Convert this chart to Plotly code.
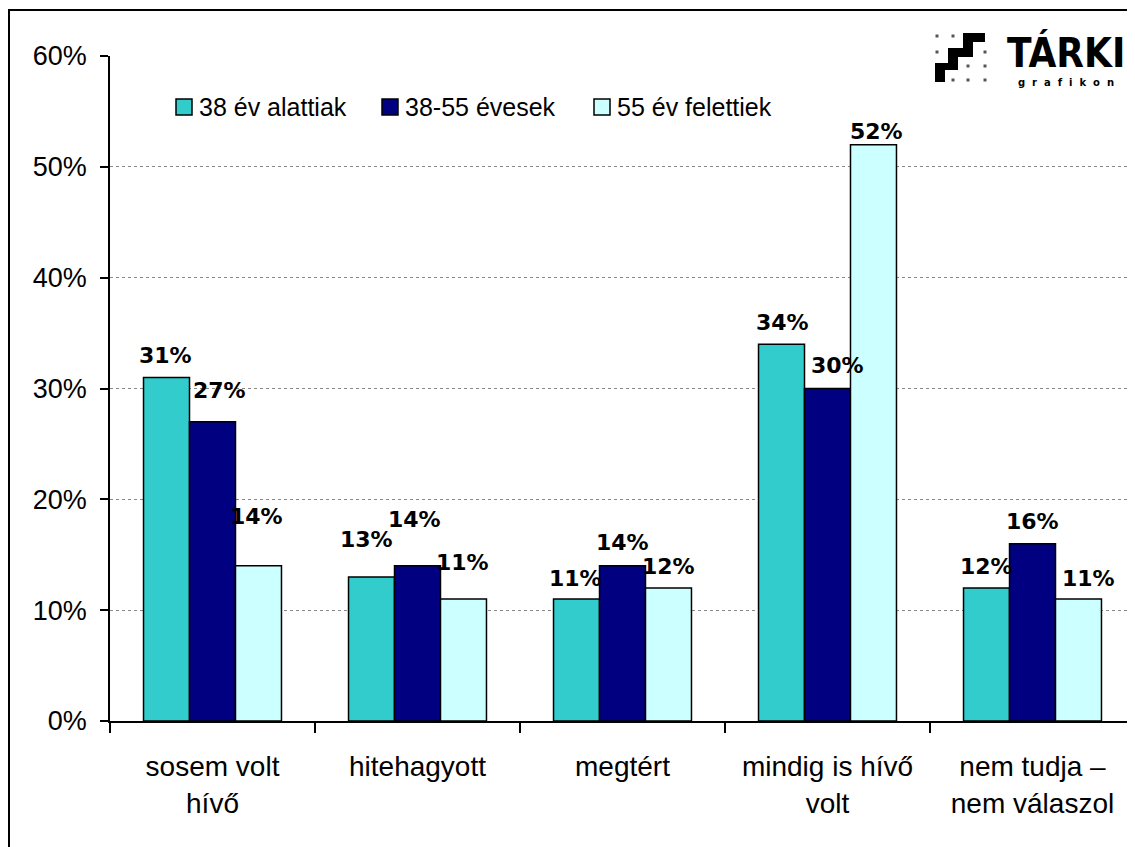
import plotly.graph_objects as go

categories = ["sosem volt<br>hívő", "hitehagyott", "megtért", "mindig is hívő<br>volt", "nem tudja –<br>nem válaszol"]
series_names = ["38 év alattiak", "38-55 évesek", "55 év felettiek"]
under38 = [31, 13, 11, 34, 12]
age38_55 = [27, 14, 14, 30, 16]
over55 = [14, 11, 12, 52, 11]
y_ticks = [0, 10, 20, 30, 40, 50, 60]
y_tick_labels = ["0%", "10%", "20%", "30%", "40%", "50%", "60%"]

colors = ["#33CCCC", "#000080", "#CCFFFF"]
values = [under38, age38_55, over55]

# label offsets (px): (dx, up) per series per category, mimicking original placement
label_offsets = [
    [(-1, 22), (-5, 37), (-1, 21), (1, 22), (0, 22)],
    [(7, 31), (-3, 46), (0, 23), (10, 23), (0, 22)],
    [(-2, 49), (-1, 37), (0, 22), (3, 13), (10, 21)],
]
legend_x = [176, 382, 594]   # page px, left edge of legend squares
legend_y = 107

BODY = 8  # default page margin around the plot div
W, H = 1135 - BODY, 847 - BODY
ML, MR, MT = 110 - BODY, 0, 56 - BODY
PW = W - ML - MR
PH = 665
MB = H - MT - PH


def px(x):
    return (x - BODY - ML) / PW


def py(y):
    return (MT + PH - (y - BODY)) / PH


fig = go.Figure()
for name, vals, col in zip(series_names, values, colors):
    fig.add_trace(go.Bar(
        x=categories, y=vals, name=name,
        marker=dict(color=col, line=dict(color="black", width=1.5)),
        hoverinfo="skip", showlegend=False,
    ))

bar_px = PW / len(categories) * 0.2244
annotations = []
for i, vals in enumerate(values):
    for j, v in enumerate(vals):
        dx, up = label_offsets[i][j]
        annotations.append(dict(
            x=categories[j], y=v, xref="x", yref="y",
            text=f"<b>{v}%</b>", showarrow=False,
            xshift=(i - 1) * bar_px + dx, yshift=up,
            yanchor="middle", xanchor="center",
            font=dict(family="DejaVu Sans", size=22, color="black"),
        ))

shapes = []
# custom legend (larger squares like the original)
for name, col, lx in zip(series_names, colors, legend_x):
    shapes.append(dict(type="rect", xref="paper", yref="paper",
                       x0=px(lx), y0=py(legend_y + 8), x1=px(lx + 16), y1=py(legend_y - 8),
                       line=dict(color="black", width=1.5), fillcolor=col, layer="above"))
    annotations.append(dict(
        x=px(lx + 21), y=py(legend_y), xref="paper", yref="paper",
        text=name, showarrow=False, xanchor="left", yanchor="middle",
        font=dict(family="Liberation Sans, Arial", size=25, color="black"),
    ))

# logo text
annotations.append(dict(
    x=px(1066), y=py(53), xref="paper", yref="paper",
    text="<b>TÁRKI</b>", showarrow=False, xanchor="center", yanchor="middle",
    font=dict(family="DejaVu Sans Condensed", size=40, color="black"),
))
annotations.append(dict(
    x=px(1066), y=py(82), xref="paper", yref="paper",
    text="<b>g  r  a  f  i  k  o  n</b>", showarrow=False, xanchor="center", yanchor="middle",
    font=dict(family="DejaVu Sans", size=10, color="black"),
))

# outer border
shapes.append(dict(type="rect", xref="paper", yref="paper",
                   x0=px(9), y0=py(870), x1=px(1145), y1=py(10),
                   line=dict(color="black", width=2), layer="above"))
# logo background
shapes.append(dict(type="rect", xref="paper", yref="paper",
                   x0=px(928), y0=py(90), x1=px(1134), y1=py(22),
                   line=dict(width=0), fillcolor="white", layer="above"))
# logo staircase
stair = [(963, 33, 985, 42), (963, 33, 973, 57), (948, 48, 973, 57),
         (948, 48, 958, 70), (935, 63, 958, 70), (935, 63, 945, 82)]
for x0, y0, x1, y1 in stair:
    shapes.append(dict(type="rect", xref="paper", yref="paper",
                       x0=px(x0), y0=py(y1), x1=px(x1), y1=py(y0),
                       line=dict(width=0), fillcolor="black", layer="above"))
dots = [(937, 36), (953, 36), (937, 52), (985, 52), (968, 66), (985, 66),
        (953, 80), (968, 80), (985, 80)]
for cx, cy in dots:
    shapes.append(dict(type="rect", xref="paper", yref="paper",
                       x0=px(cx - 1.5), y0=py(cy + 1.5), x1=px(cx + 1.5), y1=py(cy - 1.5),
                       line=dict(width=0), fillcolor="#555555", layer="above"))

fig.update_layout(
    width=W, height=H,
    margin=dict(l=ML, r=MR, t=MT, b=MB, pad=0),
    paper_bgcolor="white", plot_bgcolor="white",
    barmode="group", bargap=0.327, bargroupgap=0,
    font=dict(family="Liberation Sans, Arial", color="black"),
    showlegend=False,
    annotations=annotations,
    shapes=shapes,
    xaxis=dict(
        type="category", showline=True, linecolor="black", linewidth=1.5,
        ticks="outside", tickson="boundaries", ticklen=10, tickwidth=1.5, tickcolor="black",
        tickfont=dict(family="Liberation Sans, Arial", size=28, color="black"),
        ticklabelstandoff=20,
        showgrid=False, fixedrange=True,
    ),
    yaxis=dict(
        range=[0, 60], tickvals=y_ticks, ticktext=y_tick_labels,
        showline=True, linecolor="black", linewidth=1.5,
        ticks="outside", ticklen=8, tickwidth=1.5, tickcolor="black",
        tickfont=dict(family="Liberation Sans, Arial", size=27, color="black"),
        ticklabelstandoff=8,
        showgrid=True, gridcolor="#888888", gridwidth=1, griddash="dot",
        zeroline=False, fixedrange=True,
    ),
)

fig.write_html("out.html")
